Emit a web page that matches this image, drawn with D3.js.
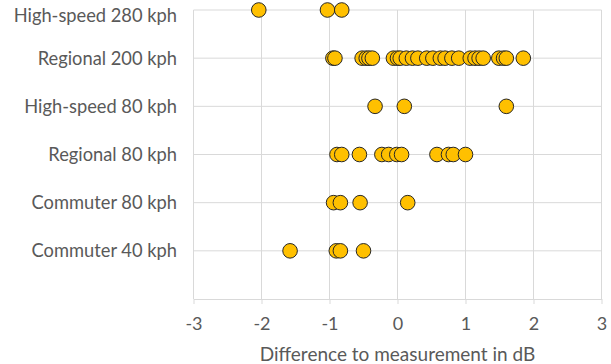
<!DOCTYPE html>
<html>
<head>
<meta charset="utf-8">
<script src="https://cdn.jsdelivr.net/npm/d3@7"></script>
<style>
  body { margin: 0; background: #fff; }
  text { font-family: Lato, "Open Sans", sans-serif; fill: #595959; }
</style>
</head>
<body>
<div id="chart"></div>
<script>
var width = 611;
var height = 364;

// categories, bottom to top
var categories = ["Commuter 40 kph", "Commuter 80 kph", "Regional 80 kph",
  "High-speed 80 kph", "Regional 200 kph", "High-speed 280 kph"];

// difference to measurement (dB) per category
var commuter40 = [-1.58, -0.90, -0.84, -0.50];
var commuter80 = [-0.94, -0.84, -0.55, 0.15];
var regional80 = [-0.89, -0.82, -0.56, -0.23, -0.13, -0.01, 0.06, 0.58, 0.75, 0.82, 1.0];
var highspeed80 = [-0.33, 0.10, 1.60];
var regional200 = [-0.95, -0.92, -0.52, -0.46, -0.42, -0.37, -0.06, 0.0, 0.04, 0.13,
  0.22, 0.30, 0.43, 0.52, 0.63, 0.70, 0.80, 0.90, 1.07, 1.14, 1.20, 1.26, 1.49, 1.56, 1.60, 1.85];
var highspeed280 = [-2.04, -1.03, -0.82];

var series = [commuter40, commuter80, regional80, highspeed80, regional200, highspeed280];
var xTicks = [-3, -2, -1, 0, 1, 2, 3];

var points = [];
series.forEach(function (vals, i) {
  vals.forEach(function (v) { points.push({ cat: i + 1, value: v }); });
});

var x = d3.scaleLinear().domain([-3, 3]).range([193.5, 601.5]);
var y = d3.scaleLinear().domain([0, 6]).range([299, 10]);

var svg = d3.select("#chart").append("svg")
  .attr("width", width)
  .attr("height", height);

// vertical gridlines
svg.append("g")
  .selectAll("line")
  .data(xTicks)
  .enter()
  .append("line")
  .attr("x1", function (d) { return x(d); })
  .attr("x2", function (d) { return x(d); })
  .attr("y1", y(6))
  .attr("y2", y(0))
  .attr("stroke", "#d9d9d9")
  .attr("stroke-width", 1);

// horizontal gridlines at each category
svg.append("g")
  .selectAll("line")
  .data(d3.range(1, 7))
  .enter()
  .append("line")
  .attr("x1", x(-3))
  .attr("x2", x(3))
  .attr("y1", function (d) { return y(d); })
  .attr("y2", function (d) { return y(d); })
  .attr("stroke", "#d9d9d9")
  .attr("stroke-width", 1);

// x axis
var xAxis = svg.append("g")
  .attr("transform", "translate(0," + y(0) + ")")
  .call(d3.axisBottom(x).tickValues(xTicks).tickSize(5).tickSizeOuter(0).tickPadding(13)
    .tickFormat(function (d) { return String(d); }));
xAxis.select(".domain").attr("stroke", "#d9d9d9");
xAxis.selectAll(".tick line").attr("stroke", "#d9d9d9");
xAxis.selectAll(".tick text")
  .style("font-family", "Lato, sans-serif")
  .style("font-size", "18px")
  .attr("fill", "#595959");

// category labels
svg.append("g")
  .selectAll("text")
  .data(categories)
  .enter()
  .append("text")
  .attr("x", 177)
  .attr("y", function (d, i) { return Math.max(y(i + 1), 16); })
  .attr("dy", "0.35em")
  .attr("text-anchor", "end")
  .style("font-size", "18.3px")
  .text(function (d) { return d; });

// x axis title
svg.append("text")
  .attr("x", (x(-3) + x(3)) / 2)
  .attr("y", 361)
  .attr("text-anchor", "middle")
  .style("font-size", "19px")
  .text("Difference to measurement in dB");

// points
svg.append("g")
  .selectAll("circle")
  .data(points)
  .enter()
  .append("circle")
  .attr("cx", function (d) { return x(d.value); })
  .attr("cy", function (d) { return y(d.cat); })
  .attr("r", 7.3)
  .attr("fill", "#FFC000")
  .attr("stroke", "#262626")
  .attr("stroke-width", 1);
</script>
</body>
</html>
